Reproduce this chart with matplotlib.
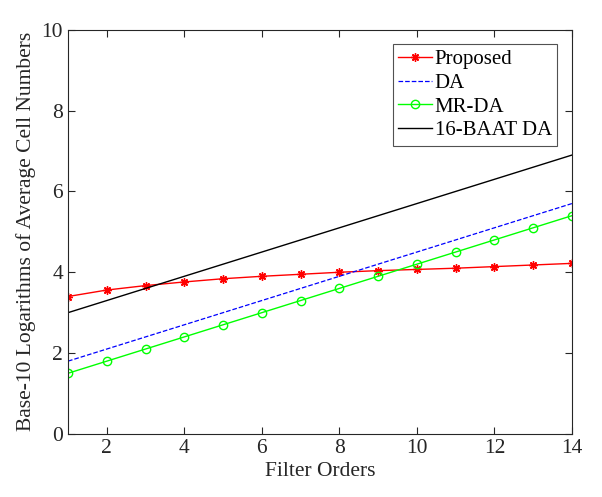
import matplotlib
matplotlib.use("Agg")
import matplotlib.pyplot as plt

plt.rcParams['font.family'] = ['Liberation Serif', 'DejaVu Serif']

filter_orders = list(range(1, 15))
proposed = [3.4, 3.56, 3.67, 3.76, 3.84, 3.9, 3.95, 4.0, 4.04, 4.07, 4.1, 4.14, 4.18, 4.22]
da = [1.8, 2.1, 2.4, 2.7, 3.0, 3.3, 3.6, 3.9, 4.2, 4.5, 4.8, 5.1, 5.4, 5.7]
mr_da = [1.5, 1.8, 2.1, 2.4, 2.7, 3.0, 3.3, 3.6, 3.9, 4.2, 4.5, 4.8, 5.1, 5.4]
baat_da = [3.0, 3.3, 3.6, 3.9, 4.2, 4.5, 4.8, 5.1, 5.4, 5.7, 6.0, 6.3, 6.6, 6.9]
xticks = [2, 4, 6, 8, 10, 12, 14]
yticks = [0, 2, 4, 6, 8, 10]

fig = plt.figure(figsize=(6.02, 4.97), dpi=100)
ax = fig.add_axes([0.113, 0.127, 0.837, 0.813])

ax.plot(filter_orders, proposed, color='red', marker=(8, 2, 0), markersize=6, mew=1, lw=1, label='Proposed')
ax.plot(filter_orders, da, color='blue', ls='--', lw=0.9, label='DA')
ax.plot(filter_orders, mr_da, color=(0, 1, 0), marker='o', markersize=6, mfc='none', lw=1, label='MR-DA')
ax.plot(filter_orders, baat_da, color='black', lw=1, label='16-BAAT DA')

ax.set_xlim(1, 14)
ax.set_ylim(0, 10)
ax.set_xticks(xticks)
ax.set_yticks(yticks)
ax.tick_params(direction='in', top=True, right=True, labelsize=15.5, length=5, colors='#262626')
for s in ax.spines.values():
    s.set_color('#262626')
    s.set_linewidth(0.8)
ax.set_xlabel('Filter Orders', fontsize=15.5, color='#262626', labelpad=3)
ax.set_ylabel('Base-10 Logarithms of Average Cell Numbers', fontsize=15.5, color='#262626')

leg = ax.legend(loc='upper right', fontsize=15, frameon=True, fancybox=False,
                edgecolor='#262626', handlelength=1.6, handletextpad=0.15,
                borderpad=0.25, labelspacing=0.2, borderaxespad=0.7)
leg.get_frame().set_linewidth(0.8)

fig.savefig('out.png', dpi=100)
